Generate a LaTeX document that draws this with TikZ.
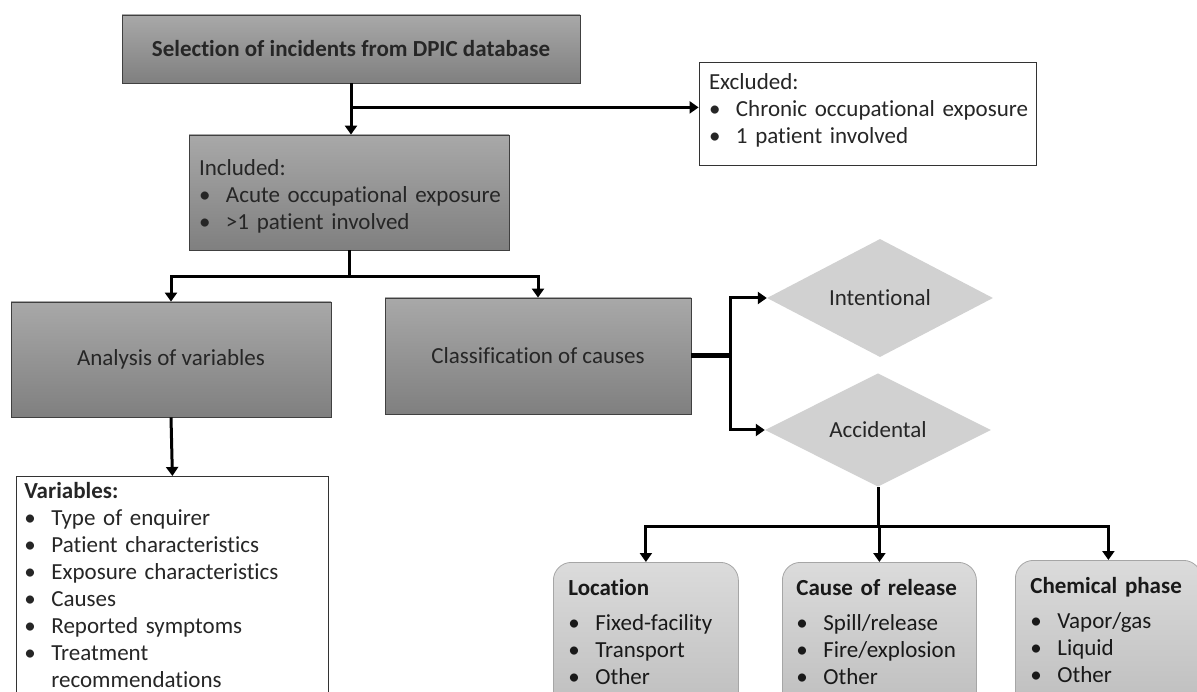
\documentclass[tikz,border=0pt]{standalone}
\usepackage{fontspec}
\setmainfont{Carlito}[Ligatures=NoCommon]
\usetikzlibrary{shapes.geometric,arrows.meta}
\newcommand{\itm}[1]{\makebox[27pt][l]{\textbullet}#1}
\newcommand{\lines}[1]{\begin{tabular}{@{}l@{}}#1\end{tabular}}

\begin{document}
\begin{tikzpicture}[x=1pt,y=-1pt,
    font=\fontsize{23}{27}\selectfont,
    darkbox/.style={draw=black!75, line width=0.8pt, top color=black!34, bottom color=black!50, text=black!85},
    whitebox/.style={draw=black!80, line width=0.8pt, fill=white, align=left, text=black!85},
    diam/.style={diamond, fill=black!18, inner sep=0pt, text=black!85},
    softbox/.style={draw=black!35, line width=0.8pt, rounded corners=18pt, top color=black!14, bottom color=black!26,
        align=left, anchor=north west, inner ysep=14pt, text=black!90},
    arr/.style={line width=3pt, -{Triangle[width=12pt,length=9pt]}}]
    \useasboundingbox (0,0) rectangle (1197,692);
    \clip (0,0) rectangle (1197,692);

    % top part
    \node[darkbox, minimum width=458pt, minimum height=68pt, font=\fontsize{23}{27}\selectfont\bfseries] (sel) at (351,49) {Selection of incidents from DPIC database};
    \node[whitebox, minimum width=337pt, minimum height=103pt, text width=317pt, inner xsep=10pt] (excl) at (867.5,113.5)
        {\lines{Excluded:\\ \itm{Chronic occupational exposure}\\ \itm{1 patient involved}\\[5pt]}};
    \node[darkbox, minimum width=320pt, minimum height=115pt, text width=300pt, inner xsep=10pt, align=left] (incl) at (349,192.5)
        {\lines{\rule{0pt}{29pt}Included:\\ \itm{Acute occupational exposure}\\ \itm{>1 patient involved}}};

    % middle part
    \node[darkbox, minimum width=320pt, minimum height=115pt] (anl) at (171,359.5) {Analysis of variables};
    \node[darkbox, minimum width=306pt, minimum height=116pt] (cls) at (538,356) {Classification of causes};
    \node[diam, minimum width=226pt, minimum height=113pt] (int) at (880,298) {Intentional};
    \node[diam, minimum width=226pt, minimum height=113pt] (acc) at (878,430) {Accidental};

    % bottom part
    \node[whitebox, anchor=north west, text width=296pt, inner xsep=8pt, inner ysep=3pt] (vars) at (16,476)
        {\lines{\textbf{Variables:}\\ \itm{Type of enquirer}\\ \itm{Patient characteristics}\\ \itm{Exposure characteristics}\\
         \itm{Causes}\\ \itm{Reported symptoms}\\ \itm{Treatment}\\ \hspace*{27pt}recommendations\\[10pt]}};
    \node[softbox, text width=155pt, inner xsep=15pt] (loc) at (553,562)
        {\lines{\textbf{Location}\\[8pt] \itm{Fixed-facility}\\ \itm{Transport}\\ \itm{Other}\\[10pt]}};
    \node[softbox, text width=166pt, inner xsep=14pt] (rel) at (782,562)
        {\lines{\textbf{Cause of release}\\[8pt] \itm{Spill/release}\\ \itm{Fire/explosion}\\ \itm{Other}\\[10pt]}};
    \node[softbox, text width=156pt, inner xsep=15pt] (chem) at (1015,560)
        {\lines{\textbf{Chemical phase}\\[8pt] \itm{Vapor/gas}\\ \itm{Liquid}\\ \itm{Other}\\[10pt]}};

    % connectors
    \draw[arr] (sel.south) -- (sel.south |- incl.north);
    \path (sel.south) ++(0,24) coordinate (fork0);
    \draw[arr] (fork0) -- (fork0 -| excl.west);
    \draw[line width=3pt] (incl.south) -- ++(0,26) coordinate (fork1);
    \draw[arr] (fork1) -| (anl.north);
    \draw[arr] (fork1) -| (cls.north);
    \draw[arr] (anl.south) -- (vars.north);
    \draw[line width=5pt] (cls.east) -- ++(39,0) coordinate (fork2);
    \draw[arr] (fork2) |- (int.west);
    \draw[arr] (fork2) |- (acc.west);
    \draw[line width=3pt] (acc.south) -- ++(0,40) coordinate (fork3);
    \draw[arr] (fork3) -| (loc.north);
    \draw[arr] (fork3) -- (fork3 -| rel.north) -- (rel.north);
    \draw[arr] (fork3) -| (chem.north);
\end{tikzpicture}
\end{document}
